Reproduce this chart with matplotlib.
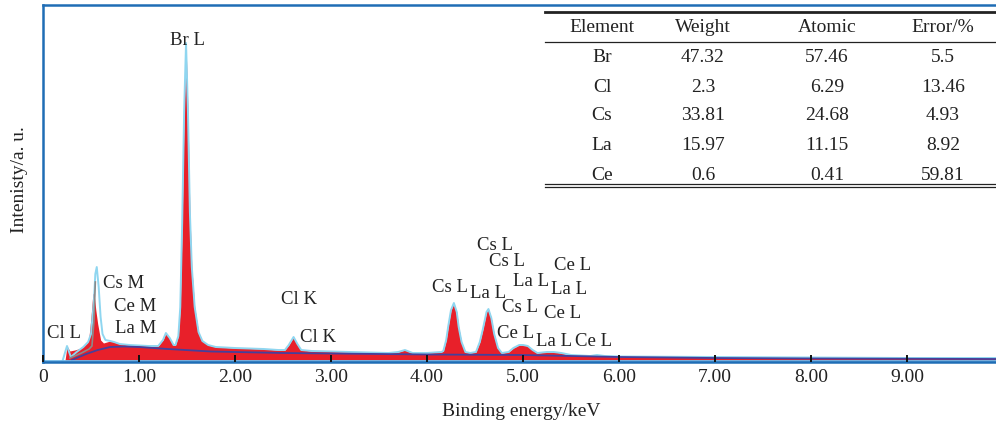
import matplotlib
matplotlib.use("Agg")
import matplotlib.pyplot as plt
from matplotlib.lines import Line2D

# ---------------- data ----------------
# measured spectrum (energy keV, intensity a.u.)
spec_e = [0.23, 0.25, 0.28, 0.33, 0.40, 0.46, 0.48, 0.50, 0.52, 0.535, 0.55, 0.57, 0.60, 0.63,
          0.70, 0.74, 0.80, 0.90, 1.00, 1.10, 1.20, 1.25, 1.28, 1.32, 1.36, 1.38,
          1.41, 1.43, 1.45, 1.47, 1.49, 1.51, 1.53, 1.55, 1.58, 1.62, 1.66, 1.72,
          1.80, 2.00, 2.30, 2.45, 2.52, 2.56, 2.61, 2.65, 2.69, 2.80, 3.20, 3.60,
          3.70, 3.77, 3.85, 4.00, 4.15, 4.17, 4.20, 4.22, 4.25, 4.28, 4.31, 4.33,
          4.36, 4.40, 4.45, 4.51, 4.55, 4.58, 4.62, 4.64, 4.67, 4.70, 4.74, 4.78,
          4.85, 4.90, 4.96, 5.00, 5.05, 5.10, 5.15, 5.25, 5.32, 5.40, 5.50, 5.70,
          5.77, 5.85, 6.00, 7.00, 8.00, 9.00, 9.95]
spec_i = [2, 16, 11, 12, 14, 19, 26, 45, 69, 66, 52, 38, 22, 19,
          21, 20, 18, 17, 16.5, 16, 16, 22, 29, 24, 17, 17,
          26, 55, 140, 250, 319, 250, 150, 95, 55, 30, 21, 17,
          15, 14, 13, 12, 12, 17, 25, 18, 12, 11, 10, 9,
          10, 12, 9, 9, 10, 11, 22, 35, 52, 59, 50, 35,
          20, 10, 9, 10, 20, 32, 50, 53, 44, 28, 14, 9,
          10, 14, 17, 17, 16, 12, 9, 10, 10, 9, 7, 6,
          7, 6, 5.5, 5, 4.5, 4, 4]

# fitted curve at low energy (joins measured spectrum above 0.65 keV)
fit_low_e = [0.20, 0.25, 0.29, 0.35, 0.42, 0.47, 0.50, 0.53, 0.545, 0.56, 0.58, 0.60, 0.62, 0.65]
fit_low_i = [0, 16, 5, 10, 15, 20, 28, 60, 88, 95, 75, 45, 28, 22]

# grey auxiliary curve
grey_e = [0.28, 0.40, 0.48, 0.51, 0.53, 0.545]
grey_i = [4, 9, 13, 16, 40, 80]

# background
bg_e = [0.30, 0.45, 0.57, 0.70, 0.85, 1.00, 1.30, 1.75, 2.50, 3.00, 4.00, 5.00, 6.00, 7.00, 8.00, 9.95]
bg_i = [2, 8, 12, 15, 15.5, 15, 13, 10.5, 9, 8.5, 7.5, 7, 5, 4, 3.5, 3]

# peak labels
peak_labels = ["Br L", "Cs M", "Ce M", "La M", "Cl L", "Cl K", "Cl K",
               "Cs L", "Cs L", "Ce L", "La L", "Cs L", "La L", "La L",
               "Cs L", "Ce L", "Ce L", "La L", "Ce L"]
label_e = [1.51, 0.84, 0.96, 0.96, 0.22, 2.67, 2.86,
           4.71, 4.83, 5.52, 5.08, 4.24, 4.64, 5.48,
           4.97, 5.41, 4.92, 5.32, 5.73]
label_i = [322, 78.5, 55.5, 33.5, 29, 62, 25,
           117, 100, 96, 81, 74, 68, 73,
           55, 48, 28, 21, 21]

xticks = [0, 1, 2, 3, 4, 5, 6, 7, 8, 9]
xtick_labels = ["0", "1.00", "2.00", "3.00", "4.00", "5.00", "6.00", "7.00", "8.00", "9.00"]

table_header = ["Element", "Weight", "Atomic", "Error/%"]
table_element = ["Br", "Cl", "Cs", "La", "Ce"]
table_weight = ["47.32", "2.3", "33.81", "15.97", "0.6"]
table_atomic = ["57.46", "6.29", "24.68", "11.15", "0.41"]
table_error = ["5.5", "13.46", "4.93", "8.92", "59.81"]

# ---------------- figure ----------------
W, H = 996, 425
plt.rcParams['font.family'] = ['Liberation Serif', 'DejaVu Serif']
fig = plt.figure(figsize=(W / 100, H / 100), dpi=100)

def fx(px):
    return px / W

def fy(py):
    return 1 - py / H

ax_left, ax_right, ax_top, ax_bot = 43, 1000, 5, 362
ax = fig.add_axes([fx(ax_left), fy(ax_bot), fx(ax_right - ax_left), (ax_bot - ax_top) / H])
ax.set_xlim(0, (ax_right - ax_left) / 96.0)
ax.set_ylim(0, ax_bot - ax_top)

red = "#e8202a"
cyan = "#8fd6f0"
navy = "#45409c"
spine_blue = "#1f6db5"

base = 1.8
ax.fill_between(spec_e, base, spec_i, color=red, lw=0, zorder=2)
# fitted outline
fit_e = fit_low_e + [e for e in spec_e if e > 0.65]
fit_i = fit_low_i + [v for e, v in zip(spec_e, spec_i) if e > 0.65]
ax.plot(fit_e, fit_i, color=cyan, lw=1.4, zorder=3)
ax.plot(grey_e, grey_i, color="#8a8a8a", lw=1.2, zorder=3)
ax.plot(bg_e, bg_i, color=navy, lw=1.3, zorder=4)
ax.axhline(1.0, color="#6db6e6", lw=1.3, zorder=4)

ax.spines["right"].set_visible(False)
for s in ("left", "top", "bottom"):
    ax.spines[s].set_color(spine_blue)
    ax.spines[s].set_linewidth(1.8)
    ax.spines[s].set_zorder(5)

ax.set_xticks(xticks)
ax.set_xticklabels(xtick_labels, fontsize=14, color="#222222")
ax.tick_params(axis="x", direction="in", length=5, width=1.4, color="#111111", pad=5)
ax.set_yticks([])
ax.xaxis.set_zorder(6)

fig.text(fx(521), fy(412), "Binding energy/keV", ha="center", va="center", fontsize=14, color="#222222")
fig.text(fx(19), fy(180), "Intenisty/a. u.", ha="center", va="center", rotation=90, fontsize=14, color="#222222")

for t, e, v in zip(peak_labels, label_e, label_i):
    ax.text(e, v, t, ha="center", va="center", fontsize=13.5, color="#222222", zorder=7)

# ---------------- table ----------------
col_x = [602, 703, 827, 943]
row_y = [27, 57, 87, 116, 146, 175]
cols = [table_element, table_weight, table_atomic, table_error]
for j, h in enumerate(table_header):
    fig.text(fx(col_x[j]), fy(row_y[0]), h, ha="center", va="center", fontsize=14, color="#222222")
for j, col in enumerate(cols):
    for i, val in enumerate(col):
        fig.text(fx(col_x[j]), fy(row_y[i + 1]), val, ha="center", va="center", fontsize=14, color="#222222")

def hline(py, lw):
    fig.add_artist(Line2D([fx(545), fx(1000)], [fy(py), fy(py)], color="#222222", lw=lw,
                          transform=fig.transFigure))

hline(12, 2.0)
hline(41.5, 0.9)
hline(183.5, 0.9)
hline(187, 0.9)

fig.savefig("out.png", dpi=100)
